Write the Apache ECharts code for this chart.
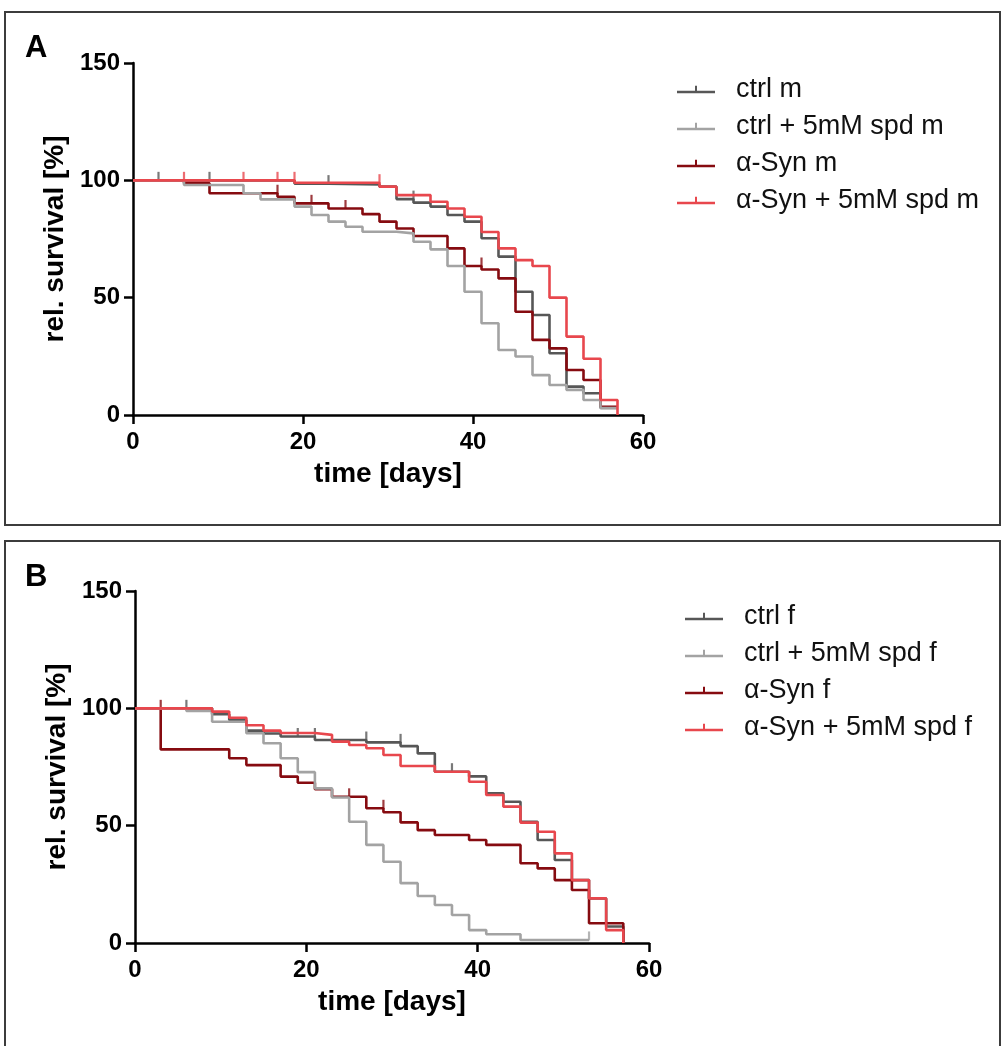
<!DOCTYPE html>
<html><head><meta charset="utf-8">
<script src="https://cdn.jsdelivr.net/npm/echarts@6/dist/echarts.min.js"></script>
<style>html,body{margin:0;padding:0;background:#fff;}#c{width:1005px;height:1046px;}</style>
</head><body><div id="c"></div>
<script>
// ---------- Panel A (males) ----------
const ctrlM_days = [0, 19, 23, 29, 31, 33, 35, 37, 39, 41, 43, 45, 47, 49, 51, 53, 55, 57];
const ctrlM_vals = [100, 98.6, 98.2, 97.3, 92, 90.5, 88.8, 85.2, 82.4, 75.3, 67.5, 52.5, 42.6, 26.3, 12.1, 9.3, 3, 3];
const ctrlM_ticks = [3, 9, 23, 33];

const ctrlSpdM_days = [0, 6, 13, 15, 19, 21, 23, 25, 27, 31, 33, 35, 37, 39, 41, 43, 45, 47, 49, 51, 53, 55, 57];
const ctrlSpdM_vals = [100, 98, 94.5, 91.9, 88.8, 85.2, 82.4, 80.2, 78.1, 77.4, 73.8, 70.6, 63.5, 52.5, 39.1, 27.7, 24.9, 17, 12.8, 10.7, 6.4, 3, 3];
const ctrlSpdM_ticks = [];

const synM_days = [0, 6, 9, 17, 19, 23, 27, 29, 31, 33, 37, 39, 41, 43, 45, 47, 49, 51, 53, 55, 57];
const synM_vals = [100, 98.8, 94.5, 93, 90.2, 88, 85.6, 82.4, 79.5, 76.3, 71, 63.5, 62, 58.2, 44, 32, 28.4, 19.2, 14.9, 3.5, 3.5];
const synM_ticks = [17, 21, 25, 41];

const synSpdM_days = [0, 19, 29, 31, 35, 37, 39, 41, 43, 45, 47, 49, 51, 53, 55, 57];
const synSpdM_vals = [100, 99, 97.3, 93.7, 90.9, 88, 84.5, 78, 71, 66, 63.5, 50, 33.4, 24, 6.4, 0];
const synSpdM_ticks = [6, 13, 17, 19, 29];

// ---------- Panel B (females) ----------
const ctrlF_days = [0, 9, 11, 13, 15, 17, 21, 27, 31, 33, 35, 39, 41, 43, 45, 47, 49, 51, 53, 55, 57];
const ctrlF_vals = [100, 97.5, 95, 90.5, 89.3, 88, 86.5, 85.5, 83.9, 80.8, 73, 71, 63.8, 60.2, 51.7, 43.9, 35.4, 26.8, 19, 7, 0];
const ctrlF_ticks = [6, 19, 21, 27, 31, 37];

const ctrlSpdF_days = [0, 6, 9, 13, 15, 17, 19, 21, 23, 25, 27, 29, 31, 33, 35, 37, 39, 41, 45, 53];
const ctrlSpdF_vals = [100, 98.9, 94.3, 89.4, 85.1, 78.7, 72.8, 65.9, 62, 51.7, 41.8, 34.6, 25.5, 20, 16.2, 11.9, 5.5, 3.7, 1.3, 1.3];
const ctrlSpdF_ticks = [53];

const synF_days = [0, 3, 11, 13, 17, 19, 21, 23, 27, 29, 31, 33, 35, 39, 41, 45, 47, 49, 51, 53, 57];
const synF_vals = [100, 82.5, 78.7, 75.8, 70.9, 68.3, 65.5, 62.3, 57.4, 55.7, 51.4, 48.1, 46, 43.9, 41.8, 34, 31.8, 26.8, 22.6, 8.4, 0];
const synF_ticks = [3, 25, 29];

const synSpdF_days = [0, 9, 11, 13, 15, 17, 21, 23, 25, 27, 29, 31, 35, 39, 41, 43, 45, 47, 49, 51, 53, 55, 57];
const synSpdF_vals = [100, 98.6, 96, 92.8, 90.5, 89.5, 88.7, 85.8, 84.4, 83, 80.1, 75.4, 73, 68.7, 63.1, 58.1, 51.3, 47.4, 38.2, 26.8, 19, 5.5, 0];
const synSpdF_ticks = [];

const xTicks = [0, 20, 40, 60];
const yTicks = [0, 50, 100, 150];

const namesA = ['ctrl m', 'ctrl + 5mM spd m', '\u03b1-Syn m', '\u03b1-Syn + 5mM spd m'];
const namesB = ['ctrl f', 'ctrl + 5mM spd f', '\u03b1-Syn f', '\u03b1-Syn + 5mM spd f'];

const COL = { ctrl: '#575757', ctrlSpd: '#a3a3a3', syn: '#860b10', synSpd: '#e8474d' };
const FONT = '"Liberation Sans", Arial, sans-serif';

function pairs(days, vals) { return days.map((d, i) => [d, vals[i]]); }
function tickPts(days, vals, ticks) {
  return ticks.map(t => {
    let v = vals[0];
    for (let i = 0; i < days.length; i++) if (days[i] < t) v = vals[i];
    return [t, v];
  });
}

const seriesDefs = [
  { name: namesA[0], g: 0, d: ctrlM_days, v: ctrlM_vals, t: ctrlM_ticks, c: COL.ctrl, z: 3 },
  { name: namesA[2], g: 0, d: synM_days, v: synM_vals, t: synM_ticks, c: COL.syn, z: 4 },
  { name: namesA[1], g: 0, d: ctrlSpdM_days, v: ctrlSpdM_vals, t: ctrlSpdM_ticks, c: COL.ctrlSpd, z: 5 },
  { name: namesA[3], g: 0, d: synSpdM_days, v: synSpdM_vals, t: synSpdM_ticks, c: COL.synSpd, z: 6 },
  { name: namesB[0], g: 1, d: ctrlF_days, v: ctrlF_vals, t: ctrlF_ticks, c: COL.ctrl, z: 3 },
  { name: namesB[2], g: 1, d: synF_days, v: synF_vals, t: synF_ticks, c: COL.syn, z: 4 },
  { name: namesB[1], g: 1, d: ctrlSpdF_days, v: ctrlSpdF_vals, t: ctrlSpdF_ticks, c: COL.ctrlSpd, z: 5 },
  { name: namesB[3], g: 1, d: synSpdF_days, v: synSpdF_vals, t: synSpdF_ticks, c: COL.synSpd, z: 6 }
];

const series = [];
seriesDefs.forEach(s => {
  series.push({
    type: 'line', name: s.name, xAxisIndex: s.g, yAxisIndex: s.g,
    data: pairs(s.d, s.v), step: 'end', showSymbol: false, symbol: 'none',
    lineStyle: { width: 2.6, color: s.c }, itemStyle: { color: s.c }, z: s.z, silent: true
  });
  series.push({
    type: 'scatter', name: s.name + ' censored', xAxisIndex: s.g, yAxisIndex: s.g,
    data: tickPts(s.d, s.v, s.t), symbol: 'rect', symbolSize: [2.2, 9], symbolOffset: [0, -4],
    itemStyle: { color: s.c }, z: s.z, silent: true
  });
});

function xAxisDef(idx) {
  return {
    type: 'value', gridIndex: idx, min: 0, max: 60, interval: 20,
    name: 'time [days]', nameLocation: 'middle', nameGap: 45,
    nameTextStyle: { fontFamily: FONT, fontWeight: 'bold', fontSize: 28, color: '#000' },
    axisLine: { show: true, onZero: false, lineStyle: { color: '#000', width: 2.5 } },
    axisTick: { show: true, length: 9, lineStyle: { color: '#000', width: 2.5 } },
    axisLabel: { fontFamily: FONT, fontWeight: 'bold', fontSize: 24, color: '#000', margin: 15,
      formatter: v => xTicks.includes(v) ? String(v) : '' },
    splitLine: { show: false }
  };
}
function yAxisDef(idx) {
  return {
    type: 'value', gridIndex: idx, min: 0, max: 150, interval: 50,
    name: 'rel. survival [%]', nameLocation: 'middle', nameGap: 62,
    nameTextStyle: { fontFamily: FONT, fontWeight: 'bold', fontSize: 28, color: '#000' },
    axisLine: { show: true, lineStyle: { color: '#000', width: 2.5 } },
    axisTick: { show: true, length: 9, lineStyle: { color: '#000', width: 2.5 } },
    axisLabel: { fontFamily: FONT, fontWeight: 'bold', fontSize: 24, color: '#000', margin: 13,
      formatter: v => yTicks.includes(v) ? String(v) : '' },
    splitLine: { show: false }
  };
}

const ICON = 'path://M0,5L38,5L38,7.5L0,7.5Z M18,0L20,0L20,5L18,5Z';
function legendDef(names, top, left) {
  return {
    orient: 'vertical', left: left, top: top, data: names.map(n => ({ name: n, icon: ICON })),
    itemWidth: 38, itemHeight: 7.5, itemGap: 10,
    textStyle: { fontFamily: FONT, fontSize: 27, color: '#111', padding: [0, 0, 0, 16] },
    selectedMode: false
  };
}

const chart = echarts.init(document.getElementById('c'), null, { renderer: 'canvas' });
chart.setOption({
  animation: false,
  backgroundColor: '#fff',
  grid: [
    { left: 133, top: 63, width: 510, height: 352 },
    { left: 135, top: 591, width: 514, height: 352 }
  ],
  xAxis: [xAxisDef(0), xAxisDef(1)],
  yAxis: [yAxisDef(0), yAxisDef(1)],
  legend: [legendDef(namesA, 71, 672), legendDef(namesB, 598, 680)],
  graphic: [
    { type: 'rect', shape: { x: 5, y: 12, width: 995, height: 513 }, style: { fill: 'none', stroke: '#3c3c3c', lineWidth: 2 }, silent: true },
    { type: 'rect', shape: { x: 5, y: 541, width: 995, height: 520 }, style: { fill: 'none', stroke: '#3c3c3c', lineWidth: 2 }, silent: true },
    { type: 'text', left: 25, top: 33, style: { text: 'A', font: 'bold 31px ' + FONT, fill: '#000' } },
    { type: 'text', left: 25, top: 562, style: { text: 'B', font: 'bold 31px ' + FONT, fill: '#000' } }
  ],
  series: series
});
</script></body></html>
